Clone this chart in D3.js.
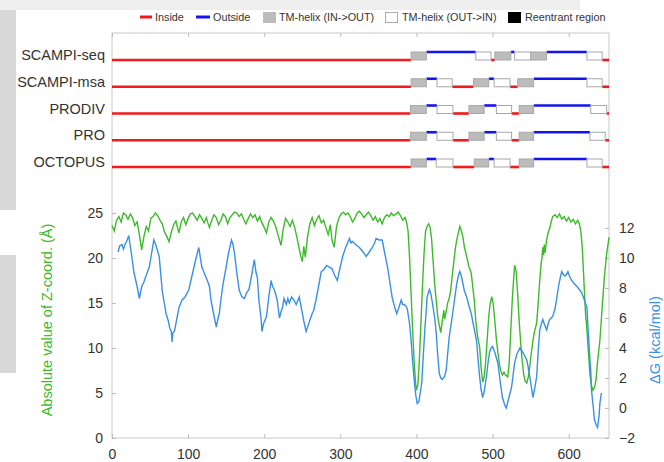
<!DOCTYPE html>
<html>
<head>
<meta charset="utf-8">
<script src="https://cdn.jsdelivr.net/npm/d3@7"></script>
<style>
  body { margin: 0; background: #fff; }
  svg text { font-family: "Liberation Sans", Arial, Helvetica, sans-serif; }
</style>
</head>
<body>
<svg id="chart" width="664" height="462"></svg>
<script>
// tick labels
const xTicks = [0, 100, 200, 300, 400, 500, 600];
const zTicks = [0, 5, 10, 15, 20, 25];
const gTicks = [-2, 0, 2, 4, 6, 8, 10, 12];

// topology predictions: [type, start residue, end residue]
const methods = ["SCAMPI-seq", "SCAMPI-msa", "PRODIV", "PRO", "OCTOPUS"];
const scampiSeq = [["in",0,393],["io",393,413],["out",413,478],["oi",478,498],["in",498,503],["io",503,524],["out",524,529],["oi",529,550],["io",550,571],["out",571,624],["oi",624,644],["in",644,653]];
const scampiMsa = [["in",0,393],["io",393,413],["out",413,427],["oi",427,447],["in",447,475],["io",475,495],["out",495,502],["oi",502,523],["in",523,533],["io",533,554],["out",554,624],["oi",624,644],["in",644,653]];
const prodiv = [["in",0,392],["io",392,413],["out",413,427],["oi",427,448],["in",448,469],["io",469,489],["out",489,505],["oi",505,525],["in",525,535],["io",535,554],["out",554,629],["oi",629,650],["in",650,653]];
const pro = [["in",0,392],["io",392,413],["out",413,427],["oi",427,448],["in",448,469],["io",469,489],["out",489,505],["oi",505,525],["in",525,535],["io",535,554],["out",554,628],["oi",628,648],["in",648,653]];
const octopus = [["in",0,393],["io",393,413],["out",413,426],["oi",426,448],["in",448,476],["io",476,495],["out",495,502],["oi",502,523],["in",523,535],["io",535,554],["out",554,624],["oi",624,644],["in",644,653]];
const tracks = [scampiSeq, scampiMsa, prodiv, pro, octopus];

// |Z| coordinate (Å) per residue
const zCoord = [
  [0,23.6],[3,23.0],[6,24.2],[9,24.6],[12,24.0],[15,25.0],[18,24.8],[21,24.3],[24,24.9],[27,24.5],
  [30,23.6],[33,24.0],[36,22.6],[39,20.9],[42,22.4],[45,23.5],[48,23.0],[51,24.4],[54,24.6],[57,25.0],
  [60,24.7],[63,24.2],[66,23.8],[69,22.9],[72,22.4],[75,21.8],[78,22.9],[81,23.7],[84,24.1],[86,23.4],
  [88,22.8],[91,24.0],[94,24.5],[97,23.7],[100,24.4],[103,24.9],[106,25.0],[109,24.6],[112,24.2],[115,24.8],
  [118,24.4],[121,23.9],[124,24.5],[126,23.9],[128,23.4],[131,24.2],[134,24.8],[137,24.5],[140,23.7],[143,24.2],
  [146,24.9],[149,24.6],[152,23.8],[155,24.5],[158,24.8],[161,25.1],[164,25.0],[167,24.6],[170,24.9],[173,24.3],
  [176,23.8],[179,24.4],[182,24.9],[185,24.5],[188,24.8],[191,24.1],[194,24.6],[197,23.9],[200,23.4],[203,22.8],
  [206,24.0],[209,24.5],[212,24.1],[215,23.5],[218,22.6],[222,21.4],[225,23.2],[228,24.4],[231,24.0],[234,23.5],
  [237,24.2],[240,23.4],[243,22.3],[246,21.0],[248,20.2],[250,19.6],[252,21.3],[254,20.1],[257,22.4],[260,23.8],
  [263,24.5],[266,23.6],[269,24.3],[272,24.7],[275,23.9],[278,24.2],[281,23.4],[284,22.6],[287,23.7],[289,22.0],
  [292,21.2],[295,23.5],[298,24.4],[301,24.9],[304,25.1],[307,24.8],[310,25.0],[313,24.6],[316,24.0],[319,24.4],
  [322,25.0],[325,25.2],[328,24.9],[331,24.5],[334,24.8],[337,25.1],[340,24.7],[343,24.2],[346,24.6],[349,24.0],
  [352,24.4],[355,23.8],[358,24.5],[361,24.8],[364,24.6],[367,25.0],[370,24.7],[373,24.9],[376,25.1],[379,24.7],
  [382,24.2],[385,24.5],[387,24.0],[389,23.0],[391,20.0],[393,16.0],[395,12.0],[397,8.5],[399,6.0],[400,5.3],
  [402,6.0],[404,9.0],[406,13.0],[408,17.0],[410,20.5],[412,23.0],[414,23.5],[416,23.8],[418,23.4],[420,22.0],
  [422,19.5],[424,17.0],[426,15.3],[428,13.5],[430,12.5],[432,11.7],[434,13.0],[436,14.2],[437,13.2],[439,14.0],
  [441,15.0],[443,15.5],[445,16.4],[447,18.0],[449,19.5],[451,21.0],[453,22.0],[455,22.8],[457,23.5],[459,23.0],
  [461,22.4],[463,21.2],[465,20.5],[467,19.8],[469,19.0],[471,18.6],[472,18.3],[474,16.8],[476,15.3],[478,13.0],
  [480,11.5],[483,10.1],[485,7.8],[487,6.2],[489,6.8],[491,8.5],[493,11.0],[495,13.5],[497,15.0],[499,15.7],
  [501,14.8],[503,13.0],[505,11.0],[507,9.5],[509,8.2],[511,7.4],[513,7.0],[515,7.3],[517,7.0],[520,6.8],
  [522,8.5],[524,12.0],[526,15.5],[528,18.0],[529,19.2],[531,18.5],[533,16.0],[535,13.0],[537,10.5],[539,8.5],
  [541,7.0],[543,6.3],[545,6.1],[547,6.8],[549,8.0],[551,9.5],[553,10.8],[555,11.8],[558,12.8],[560,15.0],
  [562,17.5],[564,19.5],[565,20.0],[566,21.2],[567,20.3],[568,21.5],[569,20.6],[571,22.0],[573,22.8],[575,23.3],
  [577,24.0],[579,24.6],[582,24.8],[585,24.5],[588,24.9],[591,24.3],[594,24.6],[597,24.1],[600,24.5],[603,24.0],
  [606,24.3],[609,23.8],[612,24.2],[614,23.8],[616,23.0],[618,21.0],[620,17.5],[622,14.0],[624,12.0],[626,9.5],
  [628,7.0],[630,5.8],[632,5.3],[634,5.6],[636,6.5],[638,8.5],[641,10.8],[644,14.5],[647,18.0],[650,20.5],[653,22.3]
];

// ΔG (kcal/mol) per residue
const deltaG = [
  [8,10.4],[10,10.8],[13,10.9],[15,10.6],[17,10.9],[20,11.2],[22,11.5],[24,10.8],[26,10.1],[29,9.0],
  [33,8.1],[36,7.3],[39,8.1],[42,8.4],[46,9.0],[49,9.4],[52,10.3],[55,11.2],[58,10.8],[62,10.1],
  [66,7.8],[69,6.9],[71,6.3],[74,5.8],[76,5.3],[78,5.1],[79,4.4],[80,5.0],[82,5.1],[85,5.9],
  [88,6.7],[92,7.2],[96,7.4],[101,7.9],[105,8.8],[110,9.9],[114,10.7],[118,9.4],[122,8.9],[126,8.4],
  [128,8.1],[130,7.2],[133,6.4],[137,5.4],[139,5.9],[141,6.3],[143,7.2],[146,8.3],[150,9.4],[153,10.3],
  [157,11.2],[159,10.9],[161,10.3],[164,9.0],[167,7.9],[169,7.6],[171,7.4],[174,7.3],[177,7.7],[180,7.9],
  [184,9.0],[187,9.9],[189,9.1],[191,8.7],[193,7.2],[196,5.9],[197,5.1],[199,5.6],[203,6.1],[206,7.4],
  [209,8.5],[211,8.1],[213,7.9],[215,7.6],[217,7.2],[220,6.0],[222,6.4],[224,6.7],[226,7.3],[229,6.9],
  [231,7.3],[233,7.0],[236,7.4],[239,7.2],[242,6.9],[246,7.4],[249,6.6],[252,5.8],[255,5.1],[257,5.4],
  [259,5.7],[261,6.0],[263,6.3],[265,6.5],[268,7.2],[271,8.0],[275,9.1],[278,9.2],[282,9.5],[285,9.4],
  [289,9.3],[292,8.9],[296,8.5],[299,9.2],[303,10.1],[307,10.7],[312,11.3],[314,11.0],[316,11.1],[320,10.9],
  [325,10.7],[330,10.4],[334,10.1],[338,10.4],[342,10.7],[345,11.0],[347,11.3],[351,11.2],[355,11.2],[358,10.4],
  [362,9.4],[365,8.4],[368,7.4],[371,6.8],[374,6.3],[377,6.7],[380,7.2],[382,6.9],[384,6.9],[386,6.8],
  [388,6.6],[391,5.6],[393,4.5],[395,3.1],[397,1.9],[399,0.9],[401,0.3],[403,0.4],[405,1.0],[407,1.7],
  [409,3.5],[411,5.2],[413,6.6],[414,7.4],[417,7.9],[419,7.6],[421,7.0],[424,6.0],[426,5.0],[428,3.5],
  [430,2.3],[432,2.0],[434,1.9],[437,2.1],[439,2.5],[441,3.6],[443,4.7],[445,5.4],[447,6.1],[450,7.2],
  [453,8.3],[455,8.8],[457,9.1],[459,8.8],[461,8.3],[463,7.8],[466,7.4],[469,6.8],[472,6.3],[475,5.5],
  [479,4.5],[481,3.2],[483,2.1],[485,1.2],[487,0.7],[489,1.1],[492,2.1],[494,3.0],[496,3.7],[498,4.0],
  [500,4.1],[503,3.7],[507,3.0],[510,1.8],[513,0.7],[516,0.2],[518,0.0],[521,0.6],[525,1.4],[527,2.2],
  [529,3.0],[532,3.6],[536,4.0],[540,3.7],[545,3.2],[548,2.4],[551,1.4],[553,0.7],[555,1.2],[558,2.1],
  [560,3.8],[562,5.2],[564,5.6],[566,5.9],[568,5.6],[571,5.2],[573,5.6],[575,5.9],[577,6.0],[579,6.1],
  [582,6.6],[584,7.2],[587,8.2],[589,8.7],[591,9.1],[593,8.9],[595,8.8],[597,8.9],[599,9.1],[601,8.8],
  [604,8.5],[607,8.3],[611,8.1],[614,7.9],[617,7.7],[620,7.3],[622,7.0],[624,6.7],[625,5.7],[627,4.0],
  [629,2.5],[630,1.2],[632,0.2],[634,-0.8],[636,-1.1],[638,-1.3],[640,-0.5],[641,0.3],[643,1.0]
];

const svg = d3.select("#chart");
const zColor = "#3dba2b", gColor = "#3a8fe6", red = "#f21a1a", blue = "#1414f0";

// screenshot backdrop
svg.append("rect").attr("x", 0).attr("y", 0).attr("width", 580).attr("height", 10).attr("fill", "#eeeeee");
svg.append("rect").attr("x", 0).attr("y", 10).attr("width", 16).attr("height", 200).attr("fill", "#d8d8d8");
svg.append("rect").attr("x", 0).attr("y", 255).attr("width", 16).attr("height", 118).attr("fill", "#d8d8d8");

const x = d3.scaleLinear().domain([0, 653]).range([112, 609]);
const yZ = d3.scaleLinear().domain([0, 25]).range([438, 213]);
const yG = d3.scaleLinear().domain([-2, 12]).range([438, 228]);
const panelTop = 33, panelBottom = 438;

// frame lines
const frame = svg.append("g").attr("stroke", "#c8c8c8").attr("stroke-width", 1);
frame.append("line").attr("x1", 112).attr("x2", 112).attr("y1", panelTop).attr("y2", panelBottom);
frame.append("line").attr("x1", 609).attr("x2", 609).attr("y1", panelTop).attr("y2", panelBottom);
frame.append("line").attr("x1", 112).attr("x2", 609).attr("y1", panelTop).attr("y2", panelTop);
frame.append("line").attr("x1", 112).attr("x2", 609).attr("y1", panelBottom).attr("y2", panelBottom);

// top ticks of the track panel
svg.append("g").attr("transform", `translate(0,${panelTop})`)
  .call(d3.axisTop(x).tickValues(xTicks).tickSizeInner(-4).tickSizeOuter(0).tickFormat(""))
  .call(g => g.select(".domain").remove())
  .call(g => g.selectAll("line").attr("stroke", "#bbb"));

// axes of the profile plot
function styleAxis(g) {
  g.select(".domain").remove();
  g.selectAll("line").attr("stroke", "#bbb");
  g.selectAll("text").attr("fill", "#333").style("font-size", "14px");
}
svg.append("g").attr("transform", `translate(0,${panelBottom})`)
  .call(d3.axisBottom(x).tickValues(xTicks).tickSizeInner(-4).tickSizeOuter(0).tickPadding(11))
  .call(styleAxis);
svg.append("g").attr("transform", "translate(112,0)")
  .call(d3.axisLeft(yZ).tickValues(zTicks).tickSizeInner(-4).tickSizeOuter(0).tickPadding(9))
  .call(styleAxis);
svg.append("g").attr("transform", "translate(609,0)")
  .call(d3.axisRight(yG).tickValues(gTicks).tickSizeInner(-4).tickSizeOuter(0).tickPadding(10))
  .call(styleAxis);

// curves
const lineZ = d3.line().x(d => x(d[0])).y(d => yZ(d[1]));
const lineG = d3.line().x(d => x(d[0])).y(d => yG(d[1]));
svg.append("path").datum(zCoord).attr("d", lineZ)
  .attr("fill", "none").attr("stroke", zColor).attr("stroke-width", 1.4);
svg.append("path").datum(deltaG).attr("d", lineG)
  .attr("fill", "none").attr("stroke", gColor).attr("stroke-width", 1.4);

// axis titles
svg.append("text")
  .attr("transform", "translate(52,320) rotate(-90)")
  .attr("text-anchor", "middle")
  .attr("fill", zColor)
  .style("font-size", "14.5px")
  .text("Absolute value of Z-coord. (Å)");
svg.append("text")
  .attr("transform", "translate(660,340) rotate(-90)")
  .attr("text-anchor", "middle")
  .attr("fill", gColor)
  .style("font-size", "14.5px")
  .text("ΔG (kcal/mol)");

// topology tracks
const rowY = d3.scalePoint().domain(methods).range([60, 167]);
const boxH = 8;
methods.forEach((m, i) => {
  const base = rowY(m);
  const g = svg.append("g");
  g.append("text")
    .attr("x", 105).attr("y", base)
    .attr("text-anchor", "end")
    .attr("fill", "#333")
    .style("font-size", "14.5px")
    .text(m);
  g.selectAll("line.seg")
    .data(tracks[i].filter(d => d[0] === "in" || d[0] === "out"))
    .enter().append("line")
      .attr("class", "seg")
      .attr("x1", d => x(d[1])).attr("x2", d => x(d[2]))
      .attr("y1", d => d[0] === "in" ? base : base - boxH)
      .attr("y2", d => d[0] === "in" ? base : base - boxH)
      .attr("stroke", d => d[0] === "in" ? red : blue)
      .attr("stroke-width", 2.6);
  g.selectAll("rect.tm")
    .data(tracks[i].filter(d => d[0] === "io" || d[0] === "oi"))
    .enter().append("rect")
      .attr("class", "tm")
      .attr("x", d => x(d[1])).attr("width", d => x(d[2]) - x(d[1]))
      .attr("y", base - boxH).attr("height", boxH)
      .attr("fill", d => d[0] === "io" ? "#bcbcbc" : "#fff")
      .attr("stroke", "#a8a8a8").attr("stroke-width", 1);
});

// legend
const legend = svg.append("g").style("font-size", "10.8px").attr("fill", "#333");
const legY = 17;
legend.append("line").attr("x1", 140).attr("x2", 152).attr("y1", legY).attr("y2", legY)
  .attr("stroke", red).attr("stroke-width", 3);
legend.append("text").attr("x", 155).attr("y", legY + 4).text("Inside");
legend.append("line").attr("x1", 196).attr("x2", 210).attr("y1", legY).attr("y2", legY)
  .attr("stroke", blue).attr("stroke-width", 3);
legend.append("text").attr("x", 213).attr("y", legY + 4).text("Outside");
legend.append("rect").attr("x", 263).attr("y", 12).attr("width", 13).attr("height", 11).attr("fill", "#bcbcbc");
legend.append("text").attr("x", 279).attr("y", legY + 4).text("TM-helix (IN->OUT)");
legend.append("rect").attr("x", 385.5).attr("y", 12.5).attr("width", 12).attr("height", 10)
  .attr("fill", "#fff").attr("stroke", "#aaa");
legend.append("text").attr("x", 402).attr("y", legY + 4).text("TM-helix (OUT->IN)");
legend.append("rect").attr("x", 508).attr("y", 12).attr("width", 13).attr("height", 11).attr("fill", "#000");
legend.append("text").attr("x", 525).attr("y", legY + 4).text("Reentrant region");
</script>
</body>
</html>
